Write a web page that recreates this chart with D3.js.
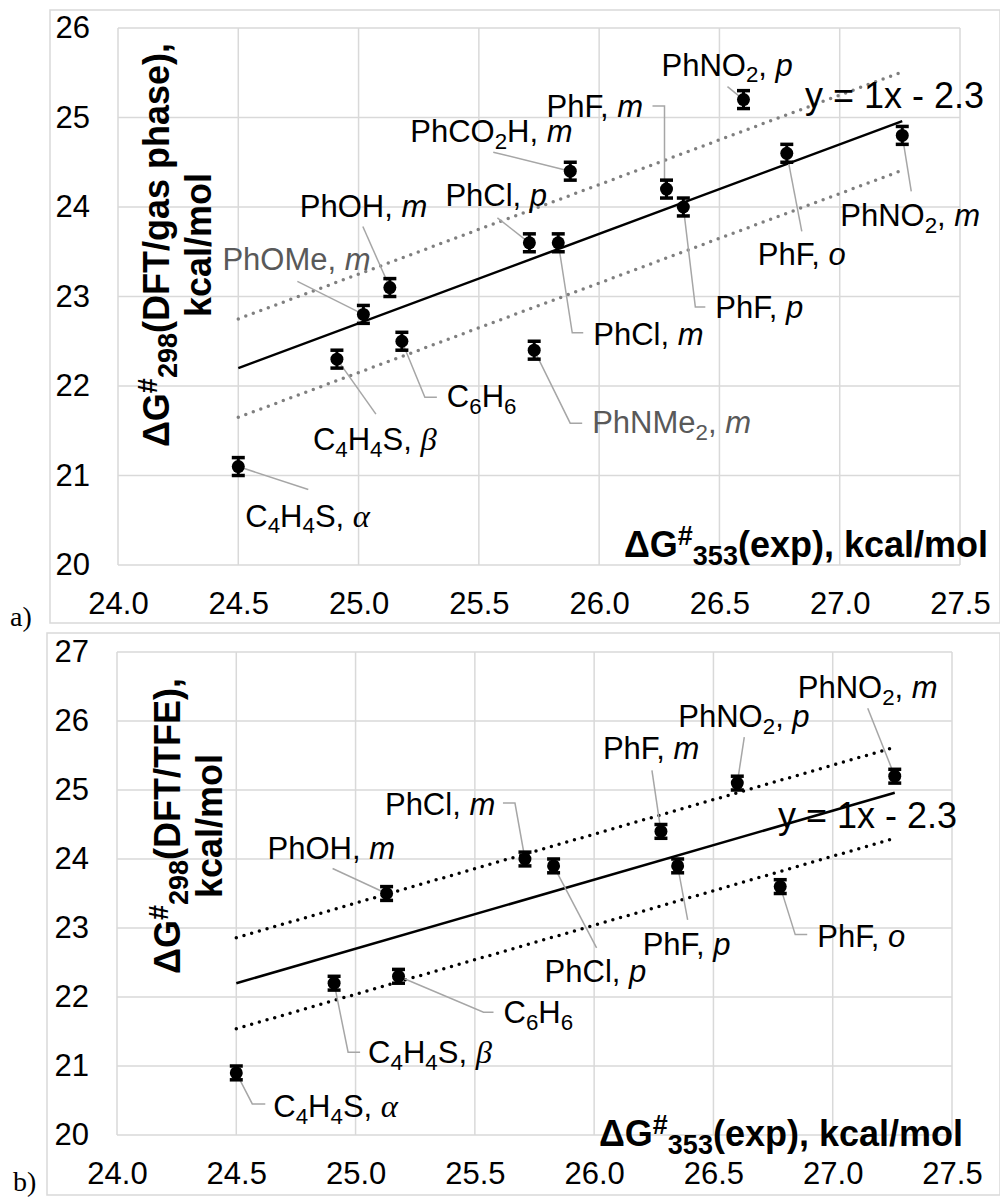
<!DOCTYPE html>
<html><head><meta charset="utf-8">
<script src="https://cdn.jsdelivr.net/npm/d3@7"></script>
<style>body{margin:0;background:#fff;} svg{display:block;}</style>
</head><body>
<svg id="c" width="1000" height="1199"></svg>
<script>
// ---------- DATA ----------
const xTickValues = [24.0, 24.5, 25.0, 25.5, 26.0, 26.5, 27.0, 27.5];
const yTicksA = [20, 21, 22, 23, 24, 25, 26];
const yTicksB = [20, 21, 22, 23, 24, 25, 26, 27];

// panel a) gas phase
const compoundsA = ["C_4H_4S, *α*", "C_4H_4S, *β*", "C_6H_6", "PhOMe, *m*", "PhOH, *m*", "PhCl, *p*", "PhCl, *m*",
  "PhNMe_2, *m*", "PhCO_2H, *m*", "PhF, *m*", "PhF, *p*", "PhNO_2, *p*", "PhF, *o*", "PhNO_2, *m*"];
const expA = [24.5, 24.91, 25.18, 25.02, 25.13, 25.71, 25.83, 25.73, 25.88, 26.28, 26.35, 26.6, 26.78, 27.26];
const dftGas = [21.1, 22.3, 22.5, 22.8, 23.1, 23.6, 23.6, 22.4, 24.4, 24.2, 24.0, 25.2, 24.6, 24.8];
const grayLabelsA = ["PhOMe, *m*", "PhNMe_2, *m*"];

// panel b) TFE
const compoundsB = ["C_4H_4S, *α*", "C_4H_4S, *β*", "C_6H_6", "PhOH, *m*", "PhCl, *m*", "PhCl, *p*", "PhF, *m*",
  "PhF, *p*", "PhNO_2, *p*", "PhF, *o*", "PhNO_2, *m*"];
const expB = [24.5, 24.91, 25.18, 25.13, 25.71, 25.83, 26.28, 26.35, 26.6, 26.78, 27.26];
const dftTFE = [20.9, 22.2, 22.3, 23.5, 24.0, 23.9, 24.4, 23.9, 25.1, 23.6, 25.2];

const errorBar = 0.1;
const trendSlope = 1, trendIntercept = -2.3;
const bandA = 0.55, bandB = 0.66;
const equationText = "y = 1x - 2.3";

// ---------- LAYOUT (pixel offsets of labels/leaders relative to points) ----------
const layoutA = [
  {dx: 7, dy: 60, lead: [[0,0],[70,23]]},
  {dx: -24, dy: 91, lead: [[0,0],[39,55]]},
  {dx: 45, dy: 66, lead: [[0,0],[23,56],[35,56]]},
  {dx: -141, dy: -44, lead: [[-66,-33],[0,0]]},
  {dx: -90, dy: -71, lead: [[-27,-61],[0,0]]},
  {dx: -84, dy: -37, lead: [[-32,-25],[0,0]]},
  {dx: 35, dy: 102, lead: [[0,0],[14,90],[25,90]]},
  {dx: 58, dy: 83, lead: [[0,0],[36,73],[48,73]]},
  {dx: -160, dy: -29, lead: [[-77,-19],[0,0]]},
  {dx: -120, dy: -72, lead: [[-14,-83],[-2,-83],[-2,0]]},
  {dx: 32, dy: 111, lead: [[0,0],[12,100],[22,100]]},
  {dx: -82, dy: -24, lead: [[-16,-13],[0,0]]},
  {dx: -29, dy: 112, lead: [[15,78],[0,0]]},
  {dx: -62, dy: 91, lead: [[9,56],[0,0]]}
];
const layoutB = [
  {dx: 37, dy: 44, lead: [[0,0],[16,31],[29,31]]},
  {dx: 34, dy: 80, lead: [[0,0],[14,69],[26,69]]},
  {dx: 105, dy: 47, lead: [[0,0],[85,36],[95,36]]},
  {dx: -119, dy: -35, lead: [[-54,-25],[0,0]]},
  {dx: -140, dy: -44, lead: [[-22,-56],[-10,-56],[0,0]]},
  {dx: -9, dy: 116, lead: [[0,0],[43,82]]},
  {dx: -58, dy: -72, lead: [[-9,-61],[0,0]]},
  {dx: -35, dy: 89, lead: [[0,0],[10,54]]},
  {dx: -59, dy: -56, lead: [[7,-46],[0,0]]},
  {dx: 37, dy: 60, lead: [[0,0],[15,48],[27,48]]},
  {dx: -97, dy: -78, lead: [[-27,-68],[0,0]]}
];

const SANS = "'Liberation Sans', Arial, Helvetica, sans-serif";
const SERIF = "'Liberation Serif', 'Times New Roman', serif";
const svg = d3.select("#c");

function parseRich(str) {
  const segs = []; let italic = false; let buf = "";
  const flush = () => { if (buf) { segs.push({t: buf, it: italic, sub: false}); buf = ""; } };
  for (let i = 0; i < str.length; i++) {
    const ch = str[i];
    if (ch === "*") { flush(); italic = !italic; }
    else if (ch === "_") { flush(); segs.push({t: str[i+1], it: italic, sub: true}); i++; }
    else buf += ch;
  }
  flush();
  return segs;
}

function richText(g, str, x, y, size, color) {
  const t = g.append("text").attr("x", x).attr("y", y)
    .attr("font-family", SANS).attr("font-size", size).attr("fill", color);
  const shift = size * 0.22;
  let pending = 0;
  parseRich(str).forEach(s => {
    const ts = t.append("tspan").text(s.t);
    if (s.it) {
      ts.attr("font-style", "italic");
      if (/[α-ω]/.test(s.t)) ts.attr("font-family", SERIF).attr("font-size", size * 1.05);
    }
    if (s.sub) {
      ts.attr("font-size", size * 0.72).attr("dy", pending + shift);
      pending = -shift;
    } else if (pending) { ts.attr("dy", pending); pending = 0; }
  });
  return t;
}

// title text: ΔG^#_{sub}(rest)
function titleText(g, sub, rest, x, y, anchor) {
  const size = 36, small = 27;
  const t = g.append("text").attr("x", x).attr("y", y).attr("text-anchor", anchor)
    .attr("font-family", SANS).attr("font-size", size).attr("font-weight", "bold").attr("fill", "#000");
  t.append("tspan").text("ΔG");
  t.append("tspan").attr("font-size", small).attr("dy", -12).text("#");
  t.append("tspan").attr("font-size", small).attr("dy", 20).text(sub);
  t.append("tspan").attr("dy", -8).text(rest);
  return t;
}

function panel(cfg) {
  const g = svg.append("g");
  const x = d3.scaleLinear().domain([24, 27.5]).range([cfg.left, cfg.right]);
  const y = d3.scaleLinear().domain([20, cfg.yMax]).range([cfg.bottom, cfg.top]);

  // outer frame
  g.append("rect").attr("x", cfg.frame[0]).attr("y", cfg.frame[1]).attr("width", cfg.frame[2]).attr("height", cfg.frame[3])
    .attr("fill", "none").attr("stroke", "#d9d9d9").attr("stroke-width", 1.5);

  // grid
  g.append("g").selectAll("line.v").data(xTickValues).join("line")
    .attr("x1", d => x(d)).attr("x2", d => x(d)).attr("y1", cfg.top).attr("y2", cfg.bottom)
    .attr("stroke", "#d9d9d9").attr("stroke-width", 1.5);
  g.append("g").selectAll("line.h").data(cfg.yTicks).join("line")
    .attr("x1", cfg.left).attr("x2", cfg.right).attr("y1", d => y(d)).attr("y2", d => y(d))
    .attr("stroke", "#d9d9d9").attr("stroke-width", 1.5);

  // axes (labels only)
  const ax = g.append("g").attr("transform", `translate(0,${cfg.bottom})`)
    .call(d3.axisBottom(x).tickValues(xTickValues).tickFormat(d3.format(".1f")).tickSize(0).tickPadding(27));
  ax.select(".domain").remove();
  ax.selectAll("text").attr("font-family", SANS).attr("font-size", 31).attr("fill", "#000");
  const ay = g.append("g").attr("transform", `translate(${cfg.left},0)`)
    .call(d3.axisLeft(y).tickValues(cfg.yTicks).tickFormat(d3.format("d")).tickSize(0).tickPadding(28));
  ay.select(".domain").remove();
  ay.selectAll("text").attr("font-family", SANS).attr("font-size", 31).attr("fill", "#000");

  // trend + bands
  const xs = cfg.xs, ys = cfg.ys;
  const x0 = d3.min(xs), x1 = d3.max(xs);
  const f = v => trendSlope * v + trendIntercept;
  [cfg.band, -cfg.band].forEach(o => {
    g.append("line").attr("x1", x(x0)).attr("y1", y(f(x0) + o)).attr("x2", x(x1)).attr("y2", y(f(x1) + o))
      .attr("stroke", cfg.dotColor).attr("stroke-width", 3.5).attr("stroke-linecap", "round")
      .attr("stroke-dasharray", "0 8");
  });
  g.append("line").attr("x1", x(x0)).attr("y1", y(f(x0))).attr("x2", x(x1)).attr("y2", y(f(x1)))
    .attr("stroke", "#000").attr("stroke-width", 2.5);

  // leaders
  const line = d3.line();
  xs.forEach((v, i) => {
    const px = x(v), py = y(ys[i]), L = cfg.layout[i];
    g.append("path").attr("d", line(L.lead.map(p => [px + p[0], py + p[1]])))
      .attr("fill", "none").attr("stroke", "#a6a6a6").attr("stroke-width", 1.5);
  });

  // markers with error bars
  xs.forEach((v, i) => {
    const px = x(v), lo = y(ys[i] - errorBar), hi = y(ys[i] + errorBar);
    g.append("line").attr("x1", px).attr("x2", px).attr("y1", lo).attr("y2", hi).attr("stroke", "#000").attr("stroke-width", 3);
    [lo, hi].forEach(yy => g.append("line").attr("x1", px - 6.5).attr("x2", px + 6.5).attr("y1", yy).attr("y2", yy)
      .attr("stroke", "#000").attr("stroke-width", 3.5));
    g.append("circle").attr("cx", px).attr("cy", y(ys[i])).attr("r", 6.5).attr("fill", "#000");
  });

  // labels
  xs.forEach((v, i) => {
    const px = x(v), py = y(ys[i]), L = cfg.layout[i];
    const col = cfg.gray.includes(cfg.names[i]) ? "#595959" : "#000";
    richText(g, cfg.names[i], px + L.dx, py + L.dy, 31, col);
  });

  // equation
  g.append("text").attr("x", cfg.eq[0]).attr("y", cfg.eq[1]).attr("font-family", SANS)
    .attr("font-size", 36).attr("fill", "#000").text(equationText);

  // axis titles
  titleText(g, "353", "(exp), kcal/mol", cfg.xTitle[0], cfg.xTitle[1], "end");
  const yt = g.append("g").attr("transform", `translate(0,${cfg.yTitle[0]}) rotate(-90)`);
  titleText(yt, "298", cfg.yTitleText, 0, cfg.yTitle[1], "middle");
  yt.append("text").attr("x", 0).attr("y", cfg.yTitle[2]).attr("text-anchor", "middle")
    .attr("font-family", SANS).attr("font-size", 36).attr("font-weight", "bold").text("kcal/mol");

  // panel tag
  g.append("text").attr("x", cfg.tag[0]).attr("y", cfg.tag[1]).attr("font-family", SERIF)
    .attr("font-size", 28).attr("fill", "#000").text(cfg.tagText);
}

panel({
  left: 118, right: 960, top: 28, bottom: 565, yMax: 26, yTicks: yTicksA,
  frame: [50, 10, 950, 613], xs: expA, ys: dftGas, names: compoundsA, gray: grayLabelsA,
  layout: layoutA, band: bandA, dotColor: "#7f7f7f", eq: [805, 108],
  xTitle: [988, 557], yTitle: [245, 169, 211], yTitleText: "(DFT/gas phase),",
  tag: [10, 626], tagText: "a)"
});
panel({
  left: 117, right: 952, top: 652, bottom: 1135, yMax: 27, yTicks: yTicksB,
  frame: [47, 633, 953, 562], xs: expB, ys: dftTFE, names: compoundsB, gray: [],
  layout: layoutB, band: bandB, dotColor: "#000", eq: [778, 828],
  xTitle: [963, 1146], yTitle: [826, 180, 222], yTitleText: "(DFT/TFE),",
  tag: [13, 1191], tagText: "b)"
});
</script>
</body></html>
